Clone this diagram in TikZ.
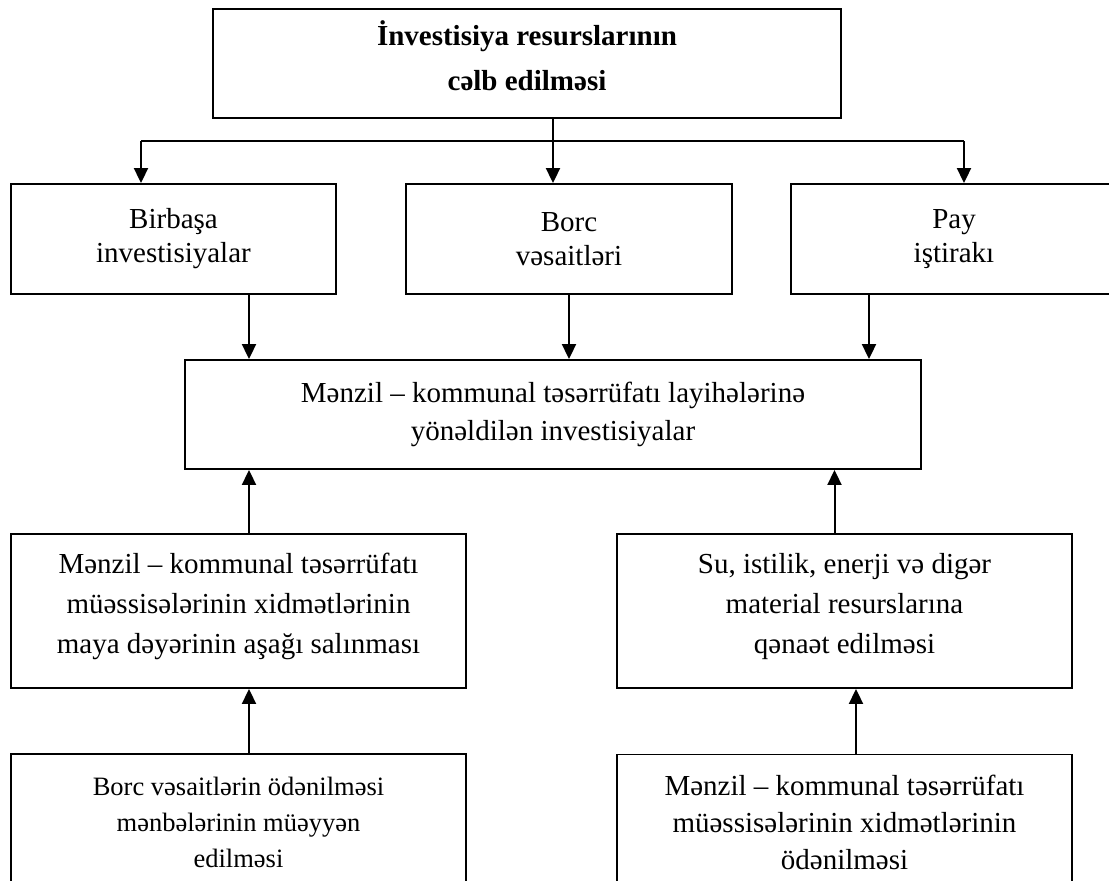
\documentclass[tikz,border=0pt]{standalone}
\usepackage{fontspec}
\setmainfont{Liberation Serif}
\usetikzlibrary{arrows.meta}
\tikzset{
  box/.style={draw, line width=1.9pt, inner sep=0pt, align=center,
    font=\fontsize{29}{38}\selectfont},
  conn/.style={line width=2pt},
  arr/.style={line width=2pt, -{Triangle[width=14pt,length=15pt]}},
}
\begin{document}
\begin{tikzpicture}[x=1pt,y=-1pt]
\useasboundingbox (0,0) rectangle (1109,881);
\clip (0,0) rectangle (1109,881);

\node[box, minimum width=628pt, minimum height=109pt, text depth=16pt,
  font=\fontsize{29}{45}\selectfont\bfseries] (top) at (527,63.5)
  {İnvestisiya resurslarının\\cəlb edilməsi};

\node[box, minimum width=325pt, minimum height=110pt,
  font=\fontsize{29}{34}\selectfont] (b1) at (173.5,239) {Birbaşa\\investisiyalar};
\node[box, minimum width=326pt, minimum height=110pt,
  font=\fontsize{29}{34}\selectfont] (b2) at (569,239) {Borc\\vəsaitləri};
\node[box, minimum width=326pt, minimum height=110pt,
  font=\fontsize{29}{34}\selectfont] (b3) at (954,239) {Pay\\iştirakı};

\node[box, minimum width=736pt, minimum height=109pt] (mid) at (553,414.5)
  {Mənzil – kommunal təsərrüfatı layihələrinə\\yönəldilən investisiyalar};

\node[box, minimum width=455pt, minimum height=154pt, text depth=16pt,
  font=\fontsize{29}{40}\selectfont] (l1) at (238.5,611)
  {Mənzil – kommunal təsərrüfatı\\müəssisələrinin xidmətlərinin\\maya dəyərinin aşağı salınması};
\node[box, minimum width=455pt, minimum height=154pt, text depth=16pt,
  font=\fontsize{29}{40}\selectfont] (r1) at (844.5,611)
  {Su, istilik, enerji və digər\\material resurslarına\\qənaət edilməsi};

\node[box, minimum width=455pt, minimum height=136pt,
  font=\fontsize{26.5}{36}\selectfont] (l2) at (238.5,822)
  {Borc vəsaitlərin ödənilməsi\\mənbələrinin müəyyən\\edilməsi};
\node[box, minimum width=455pt, minimum height=136pt,
  font=\fontsize{29}{37}\selectfont] (r2) at (844.5,822.5)
  {Mənzil – kommunal təsərrüfatı\\müəssisələrinin xidmətlərinin\\ödənilməsi};

\coordinate (jl) at (141,141);
\coordinate (jc) at (553,141);
\coordinate (jr) at (964,141);
\coordinate (a1) at (249,0);
\coordinate (a3) at (869,0);
\coordinate (u2) at (834.5,0);
\coordinate (d2) at (856,0);

\draw[conn] (jl) -- (jr);
\draw[arr] (top.south -| jc) -- (jc |- b2.north);
\draw[arr] (jl) -- (jl |- b1.north);
\draw[arr] (jr) -- (jr |- b3.north);

\draw[arr] (b1.south -| a1) -- (mid.north -| a1);
\draw[arr] (b2.south) -- (mid.north -| b2.south);
\draw[arr] (b3.south -| a3) -- (mid.north -| a3);

\draw[arr] (l1.north -| a1) -- (mid.south -| a1);
\draw[arr] (r1.north -| u2) -- (mid.south -| u2);

\draw[arr] (l2.north -| a1) -- (l1.south -| a1);
\draw[arr] (r2.north -| d2) -- (r1.south -| d2);
\end{tikzpicture}
\end{document}
